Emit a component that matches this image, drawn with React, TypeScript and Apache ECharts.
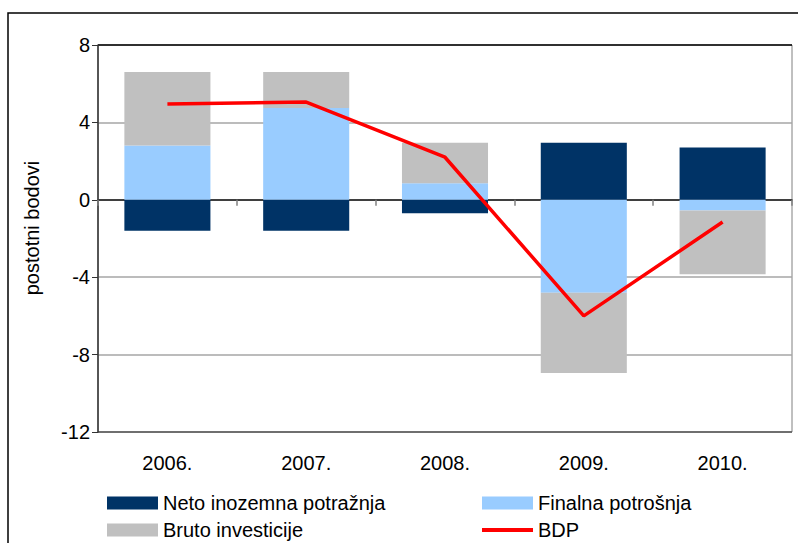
import React, { useEffect, useRef } from "react";
import * as echarts from "echarts";

const categories = ["2006.", "2007.", "2008.", "2009.", "2010."];
const netoInozemna = [-1.6, -1.6, -0.7, 2.95, 2.7];
const finalnaPotrosnja = [2.8, 4.75, 0.85, -4.8, -0.55];
const brutoInvesticije = [3.8, 1.85, 2.1, -4.15, -3.3];
const bdp = [4.95, 5.05, 2.2, -6.0, -1.15];
const yTicks = { min: -12, max: 8, interval: 4 };

const FONT = "Liberation Sans, Arial, sans-serif";

function legendAt(name: string, left: number, top: number, itemHeight: number) {
  return {
    orient: "horizontal",
    left,
    top,
    itemWidth: 51,
    itemHeight,
    selectedMode: false,
    padding: 0,
    textStyle: { fontSize: 20, color: "#000", fontFamily: FONT },
    data: [{ name, icon: "rect" }],
  };
}

export default function App() {
  const ref = useRef<HTMLDivElement>(null);
  useEffect(() => {
    if (!ref.current) return;
    const chart = echarts.init(ref.current, undefined, { renderer: "svg" });
    chart.setOption({
      animation: false,
      backgroundColor: "#ffffff",
      textStyle: { fontFamily: FONT, color: "#000" },
      grid: {
        left: 98,
        top: 45,
        right: 6,
        bottom: 111,
        show: true,
        borderColor: "#808080",
        borderWidth: 1,
        containLabel: false,
      },
      xAxis: [
        {
          type: "category",
          data: categories,
          position: "bottom",
          axisLine: { show: true, onZero: true, lineStyle: { color: "#333", width: 1.5 } },
          axisTick: { show: true, length: 6, alignWithLabel: false, lineStyle: { color: "#808080", width: 1.5 } },
          axisLabel: { show: false },
          splitLine: { show: false },
        },
        {
          type: "category",
          data: categories,
          position: "bottom",
          axisLine: { show: false, onZero: false },
          axisTick: { show: false },
          axisLabel: { show: true, fontSize: 20, color: "#000", margin: 21, fontFamily: FONT },
          splitLine: { show: false },
        },
      ],
      yAxis: {
        type: "value",
        min: yTicks.min,
        max: yTicks.max,
        interval: yTicks.interval,
        axisLine: { show: true, lineStyle: { color: "#333", width: 1.5 } },
        axisTick: { show: true, length: 6, lineStyle: { color: "#333" } },
        axisLabel: { fontSize: 20, color: "#000", margin: 8, fontFamily: FONT },
        splitLine: {
          show: true,
          lineStyle: {
            color: ["#555", "#a6a6a6", "#a6a6a6", "#333", "#a6a6a6", "#000"],
            width: 1.5,
          },
        },
      },
      legend: [
        legendAt("Neto inozemna potražnja", 107, 493, 13),
        legendAt("Bruto investicije", 107, 520, 13),
        legendAt("Finalna potrošnja", 482, 493, 13),
        legendAt("BDP", 482, 520, 4),
      ],
      graphic: [
        {
          type: "rect",
          shape: { x: 8, y: 13, width: 820, height: 560 },
          style: { fill: "none", stroke: "#000", lineWidth: 1.5 },
          silent: true,
          z: 100,
        },
        {
          type: "text",
          x: 32,
          y: 228,
          rotation: Math.PI / 2,
          style: {
            text: "postotni bodovi",
            fontSize: 20,
            fontFamily: FONT,
            fill: "#000",
            textAlign: "center",
            textVerticalAlign: "middle",
          },
        },
      ],
      series: [
        {
          name: "Neto inozemna potražnja",
          type: "bar",
          stack: "total",
          xAxisIndex: 0,
          barCategoryGap: "38%",
          itemStyle: { color: "#003366" },
          data: netoInozemna,
        },
        {
          name: "Finalna potrošnja",
          type: "bar",
          stack: "total",
          xAxisIndex: 0,
          itemStyle: { color: "#99ccff" },
          data: finalnaPotrosnja,
        },
        {
          name: "Bruto investicije",
          type: "bar",
          stack: "total",
          xAxisIndex: 0,
          itemStyle: { color: "#c0c0c0" },
          data: brutoInvesticije,
        },
        {
          name: "BDP",
          type: "line",
          xAxisIndex: 0,
          symbol: "none",
          lineStyle: { color: "#ff0000", width: 3.5 },
          itemStyle: { color: "#ff0000" },
          z: 10,
          data: bdp,
        },
      ],
    });
    return () => chart.dispose();
  }, []);
  return (
    <div
      ref={ref}
      style={{ position: "fixed", left: 0, top: 0, width: 798, height: 543 }}
    />
  );
}
